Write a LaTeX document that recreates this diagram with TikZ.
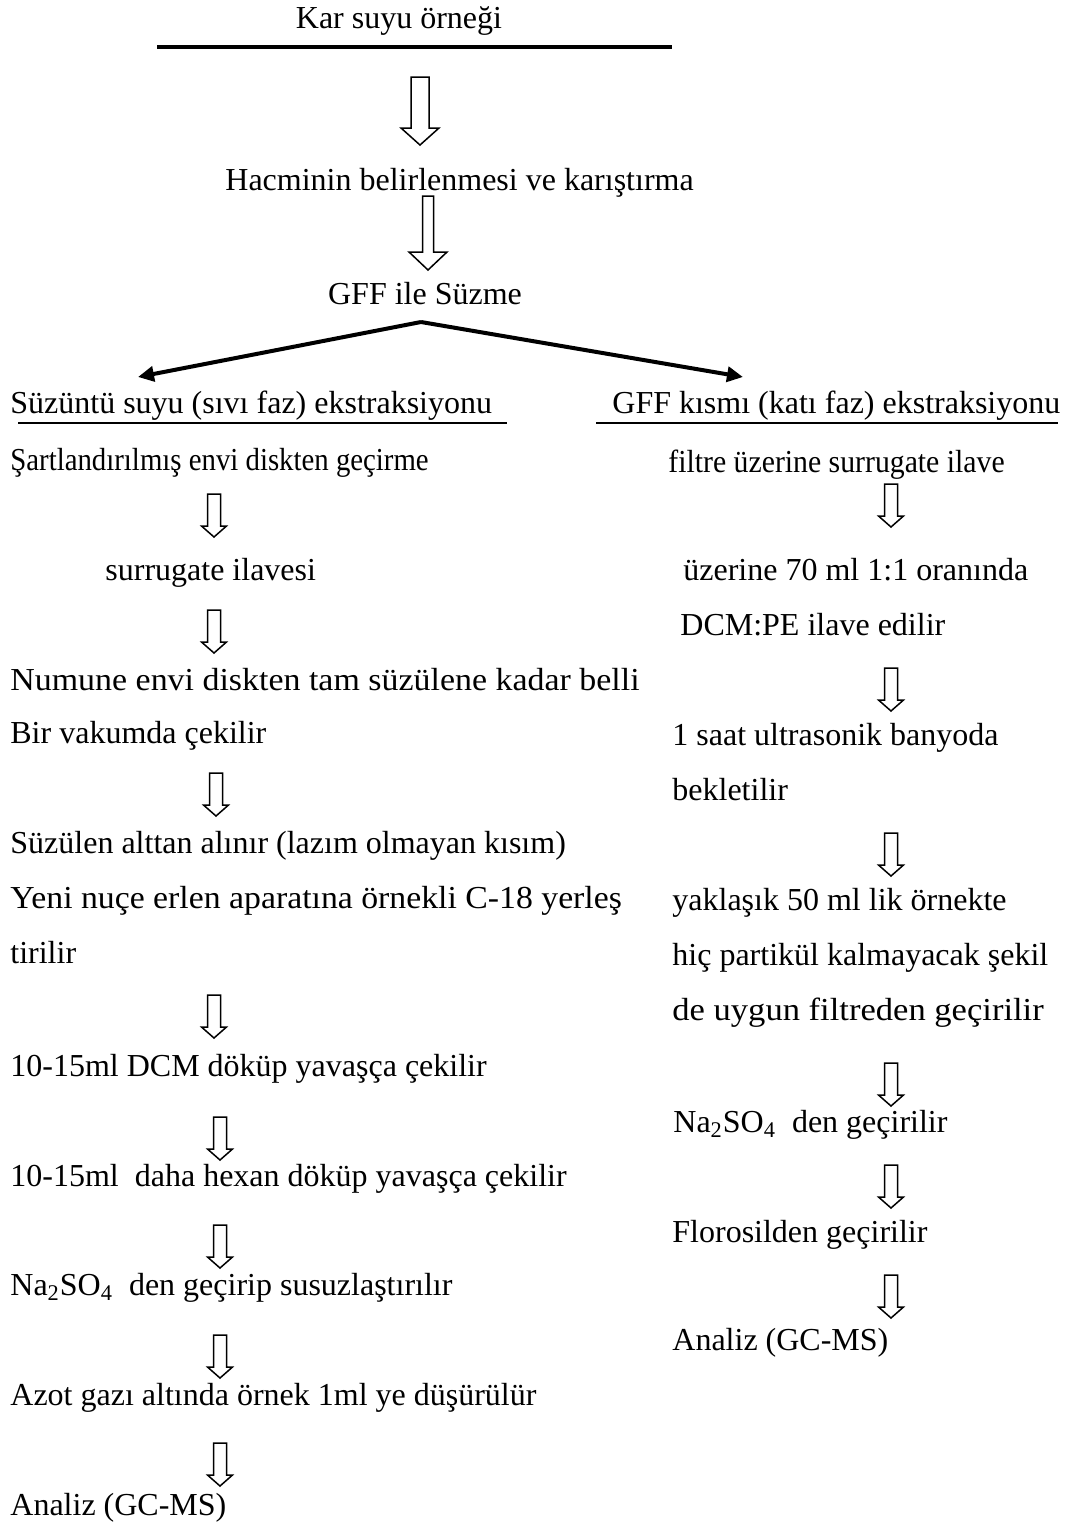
\documentclass[tikz,border=0pt]{standalone}
\usepackage{graphicx}
\usepackage{fontspec}
\setmainfont{Liberation Serif}
\usetikzlibrary{arrows.meta}

\tikzset{
  pics/holarrow/.style n args={4}{code={
    \draw[line width=0.75pt,fill=white] (-#2,0) -- (#2,0) -- (#2,#1-#4) -- (#3,#1-#4)
      -- (0,#1) -- (-#3,#1-#4) -- (-#2,#1-#4) -- cycle;
  }},
}

\begin{document}
\begin{tikzpicture}[x=0.5pt,y=-0.5pt,
  txt/.style={font=\fontsize{16}{19}\selectfont,inner sep=0pt,anchor=base west},
  branch/.style={line width=2pt,-{Triangle[length=8pt,width=7.5pt]}}]
\useasboundingbox (0,0) rectangle (1070,1526);

% top part
\node[txt,anchor=base] (sample) at (399,28) {Kar suyu örneği};
\draw[line width=2pt] (157,47) -- (672,47);
\pic at (420,77) {holarrow={68}{9}{19}{17}};
\node[txt] (volume) at (225,190) {Hacminin belirlenmesi ve karıştırma};
\pic at (428,196) {holarrow={74}{5.5}{19}{18}};
\node[txt,anchor=base] (filtering) at (425,304) {GFF ile Süzme};

% split into two phases
\coordinate (split) at (421,322);
\coordinate (lefttip) at (138,377);
\coordinate (righttip) at (743,377);
\draw[branch] (split) -- (lefttip);
\draw[branch] (split) -- (righttip);

\node[txt] (liquid) at (10,413) {Süzüntü suyu (sıvı faz) ekstraksiyonu};
\draw[line width=0.8pt] (18,423) -- (507,423);
\node[txt] (solid) at (612,413) {GFF kısmı (katı faz) ekstraksiyonu};
\draw[line width=0.8pt] (596,423) -- (1058,423);

% liquid phase
\node[txt] (l1) at (10,470) {\scalebox{0.9}[1]{Şartlandırılmış envi diskten geçirme}};
\pic at (214,494) {holarrow={43}{6.5}{12.5}{11}};
\node[txt] (l2) at (105,580) {surrugate ilavesi};
\pic at (214,610) {holarrow={43}{6.5}{12.5}{11}};
\node[txt] (l3) at (10,690) {\scalebox{1.06}[1]{Numune envi diskten tam süzülene kadar belli}};
\node[txt] (l4) at (10,743) {Bir vakumda çekilir};
\pic at (216,773) {holarrow={43}{6.5}{12.5}{11}};
\node[txt] (l5) at (10,853) {Süzülen alttan alınır (lazım olmayan kısım)};
\node[txt] (l6) at (10,908) {\scalebox{1.055}[1]{Yeni nuçe erlen aparatına örnekli C-18 yerleş}};
\node[txt] (l7) at (10,963) {tirilir};
\pic at (214,995) {holarrow={43}{6.5}{12.5}{11}};
\node[txt] (l8) at (10,1076) {10-15ml DCM döküp yavaşça çekilir};
\pic at (220,1117) {holarrow={43}{6.5}{12.5}{11}};
\node[txt] (l9) at (10,1186) {10-15ml\ \ daha hexan döküp yavaşça çekilir};
\pic at (220,1225) {holarrow={43}{6.5}{12.5}{11}};
\node[txt] (l10) at (10,1295) {Na\textsubscript{2}SO\textsubscript{4}\ \ den geçirip susuzlaştırılır};
\pic at (220,1335) {holarrow={43}{6.5}{12.5}{11}};
\node[txt] (l11) at (10,1405) {Azot gazı altında örnek 1ml ye düşürülür};
\pic at (220,1443) {holarrow={43}{6.5}{12.5}{11}};
\node[txt] (l12) at (10,1515) {Analiz (GC-MS)};

% solid phase
\node[txt] (r1) at (668,472) {\scalebox{0.93}[1]{filtre üzerine surrugate ilave}};
\pic at (891,484) {holarrow={43}{6.5}{12.5}{11}};
\node[txt] (r2) at (683,580) {üzerine 70 ml 1:1 oranında};
\node[txt] (r3) at (680,635) {DCM:PE ilave edilir};
\pic at (891,668) {holarrow={43}{6.5}{12.5}{11}};
\node[txt] (r4) at (672,745) {1 saat ultrasonik banyoda};
\node[txt] (r5) at (672,800) {bekletilir};
\pic at (891,833) {holarrow={43}{6.5}{12.5}{11}};
\node[txt] (r6) at (672,910) {yaklaşık 50 ml lik örnekte};
\node[txt] (r7) at (672,965) {hiç partikül kalmayacak şekil};
\node[txt] (r8) at (672,1020) {\scalebox{1.08}[1]{de uygun filtreden geçirilir}};
\pic at (891,1063) {holarrow={43}{6.5}{12.5}{11}};
\node[txt] (r9) at (673,1132) {Na\textsubscript{2}SO\textsubscript{4}\ \ den geçirilir};
\pic at (891,1165) {holarrow={43}{6.5}{12.5}{11}};
\node[txt] (r10) at (672,1242) {Florosilden geçirilir};
\pic at (891,1275) {holarrow={43}{6.5}{12.5}{11}};
\node[txt] (r11) at (672,1350) {Analiz (GC-MS)};
\end{tikzpicture}
\end{document}
